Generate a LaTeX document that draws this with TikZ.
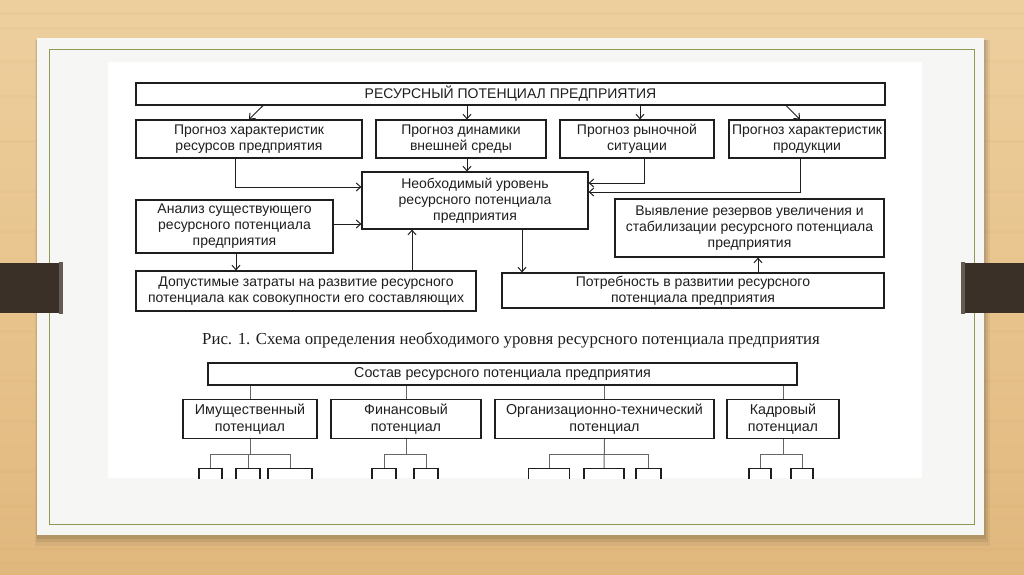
\documentclass[tikz,border=0pt]{standalone}
\usepackage{fontspec}
\setmainfont{Liberation Sans}
\newfontfamily\capfont{Liberation Serif}
\usetikzlibrary{arrows.meta,calc}
\definecolor{woodTop}{HTML}{EDCF9E}
\definecolor{woodMid}{HTML}{E8C48D}
\definecolor{woodBot}{HTML}{E0B87E}
\definecolor{woodLine}{HTML}{C99E62}
\definecolor{cardBg}{HTML}{F6F6F4}
\definecolor{frameGreen}{HTML}{8C9A55}
\definecolor{barDark}{HTML}{3B3028}
\definecolor{ink}{HTML}{1E1E1E}
\tikzset{
  bx/.style={draw=ink, line width=1.1pt, fill=white, inner sep=0pt, align=center,
             text=ink, font=\fontsize{14}{16}\selectfont},
  bxb/.style={draw=ink, line width=1.1pt, fill=white, inner sep=0pt, align=center,
             text=ink, font=\fontsize{14.3}{17}\selectfont},
  sbx/.style={draw=ink, line width=1.1pt, fill=white, inner sep=0pt, minimum height=30},
  arr/.style={draw=ink, line width=1pt, -{Straight Barb[length=4.5pt,width=8pt,line width=1pt]}},
  tln/.style={draw=black!60, line width=1pt},
}
\begin{document}
\begin{tikzpicture}[x=1pt,y=-1pt]
\useasboundingbox (0,0) rectangle (1024,574);
% wood background
\shade[top color=woodTop, bottom color=woodBot, middle color=woodMid] (0,0) rectangle (1024,574);
\foreach \yy/\op in {12/0.10,27/0.06,60/0.08,95/0.05,140/0.07,190/0.05,230/0.08,330/0.06,380/0.07,420/0.05,470/0.08,505/0.06,548/0.10,562/0.08}{
  \fill[woodLine,opacity=\op] (0,\yy) rectangle (1024,\yy+3);
}
% card shadow
\fill[black,opacity=0.05] (35,40) rectangle (990,546);
\fill[black,opacity=0.07] (36,40) rectangle (988,542);
\fill[black,opacity=0.09] (37,40) rectangle (986,539);
% card
\fill[cardBg] (37,38) rectangle (984,535);
\draw[frameGreen, line width=0.9pt] (49,49) rectangle (974,524);
\fill[white] (108,62) rectangle (922,478);
% side bars
\fill[barDark] (0,263) rectangle (62,313);
\fill[barDark!80!white] (59,262) rectangle (63,314);
\fill[barDark] (962,263) rectangle (1024,313);
\fill[barDark!80!white] (961,262) rectangle (965,314);

% ===== Figure 1 =====
\node[bx, minimum width=749, minimum height=22] (top) at (510.5,94) {РЕСУРСНЫЙ ПОТЕНЦИАЛ ПРЕДПРИЯТИЯ};
\node[bx, minimum width=226, minimum height=38] (p1) at (249,139) {Прогноз характеристик\\ресурсов предприятия};
\node[bx, minimum width=170, minimum height=38] (p2) at (461,139) {Прогноз динамики\\внешней среды};
\node[bx, minimum width=154, minimum height=38] (p3) at (637,139) {Прогноз рыночной\\ситуации};
\node[bx, minimum width=156, minimum height=38] (p4) at (807,139) {Прогноз характеристик\\продукции};
\node[bx, minimum width=226, minimum height=57] (c) at (475,200.5) {Необходимый уровень\\ресурсного потенциала\\предприятия};
\node[bx, minimum width=197, minimum height=53] (an) at (234.5,226.5) {Анализ существующего\\ресурсного потенциала\\предприятия};
\node[bx, minimum width=269, minimum height=58] (res) at (749.5,228) {Выявление резервов увеличения и\\стабилизации ресурсного потенциала\\предприятия};
\node[bx, minimum width=340, minimum height=40] (al) at (306,291) {Допустимые затраты на развитие ресурсного\\потенциала как совокупности его составляющих};
\node[bx, minimum width=382, minimum height=35] (need) at (693,290.5) {Потребность в развитии ресурсного\\потенциала предприятия};

\draw[arr] ([xshift=14]top.south -| p1.north) -- (p1.north);
\draw[arr] ([xshift=6]top.south -| p2.north) -- ([xshift=6]p2.north);
\draw[arr] ([xshift=3]top.south -| p3.north) -- ([xshift=3]p3.north);
\draw[arr] ([xshift=-21]top.south -| p4.north) -- ([xshift=-7]p4.north);
\draw[arr] ([xshift=6]p2.south) -- ([xshift=6]p2.south |- c.north);
\draw[arr] ([xshift=-14]p1.south) |- ([yshift=13.5]c.west);
\draw[arr] ([yshift=2.5]an.east) -- ([yshift=2.5]an.east -| c.west);
\draw[arr] ([xshift=1.5]an.south) -- ([xshift=1.5]an.south |- al.north);
\draw[arr] ([xshift=106]al.north) -- ([xshift=106]al.north |- c.south);
\draw[arr] ([xshift=7]p3.south) |- ([yshift=17.5]c.east);
\draw[arr] ([xshift=-7]p4.south) |- ([yshift=8.5]c.east);
\draw[arr] ([xshift=47]c.south) -- ([xshift=47]c.south |- need.north);
\draw[arr] ([xshift=65]need.north) -- ([xshift=65]need.north |- res.south);

\node[text=ink, font=\capfont\fontsize{16.8}{19}\selectfont] (cap) at (511,340) {Рис. 1. Схема определения необходимого уровня ресурсного потенциала предприятия};

% ===== Figure 2 =====
\node[bxb, minimum width=589, minimum height=22] (so) at (502.5,374) {Состав ресурсного потенциала предприятия};
\node[bxb, minimum width=134, minimum height=39] (im) at (250,419) {Имущественный\\потенциал};
\node[bxb, minimum width=150, minimum height=39] (fin) at (406,419) {Финансовый\\потенциал};
\node[bxb, minimum width=219, minimum height=39] (org) at (604.5,419) {Организационно-технический\\потенциал};
\node[bxb, minimum width=112, minimum height=39] (kad) at (783,419) {Кадровый\\потенциал};

\foreach \n in {im,fin,org,kad}{
  \draw[tln] (so.south -| \n.north) -- (\n.north);
}

\begin{scope}
\clip (100,440) rectangle (930,478);
\node[sbx, minimum width=23, anchor=north] (s11) at (210.5,468) {};
\node[sbx, minimum width=24, anchor=north] (s12) at (248,468) {};
\node[sbx, minimum width=44, anchor=north] (s13) at (290,468) {};
\node[sbx, minimum width=24, anchor=north] (s21) at (384,468) {};
\node[sbx, minimum width=24, anchor=north] (s22) at (426,468) {};
\node[sbx, minimum width=41, anchor=north] (s31) at (549,468) {};
\node[sbx, minimum width=40, anchor=north] (s32) at (604,468) {};
\node[sbx, minimum width=25, anchor=north] (s33) at (648.5,468) {};
\node[sbx, minimum width=22, anchor=north] (s41) at (760,468) {};
\node[sbx, minimum width=22, anchor=north] (s42) at (802,468) {};
\end{scope}

\draw[tln] (im.south) -- (im.south |- 0,454);
\draw[tln] (s11.north) -- ++(0,-14) -| (s13.north);
\draw[tln] (s12.north) -- ++(0,-14);
\draw[tln] (fin.south) -- (fin.south |- 0,454);
\draw[tln] (s21.north) -- ++(0,-14) -| (s22.north);
\draw[tln] (org.south) -- (s32.north);
\draw[tln] (s31.north) -- ++(0,-14) -| (s33.north);
\draw[tln] (kad.south) -- (kad.south |- 0,454);
\draw[tln] (s41.north) -- ++(0,-14) -| (s42.north);
\end{tikzpicture}
\end{document}
